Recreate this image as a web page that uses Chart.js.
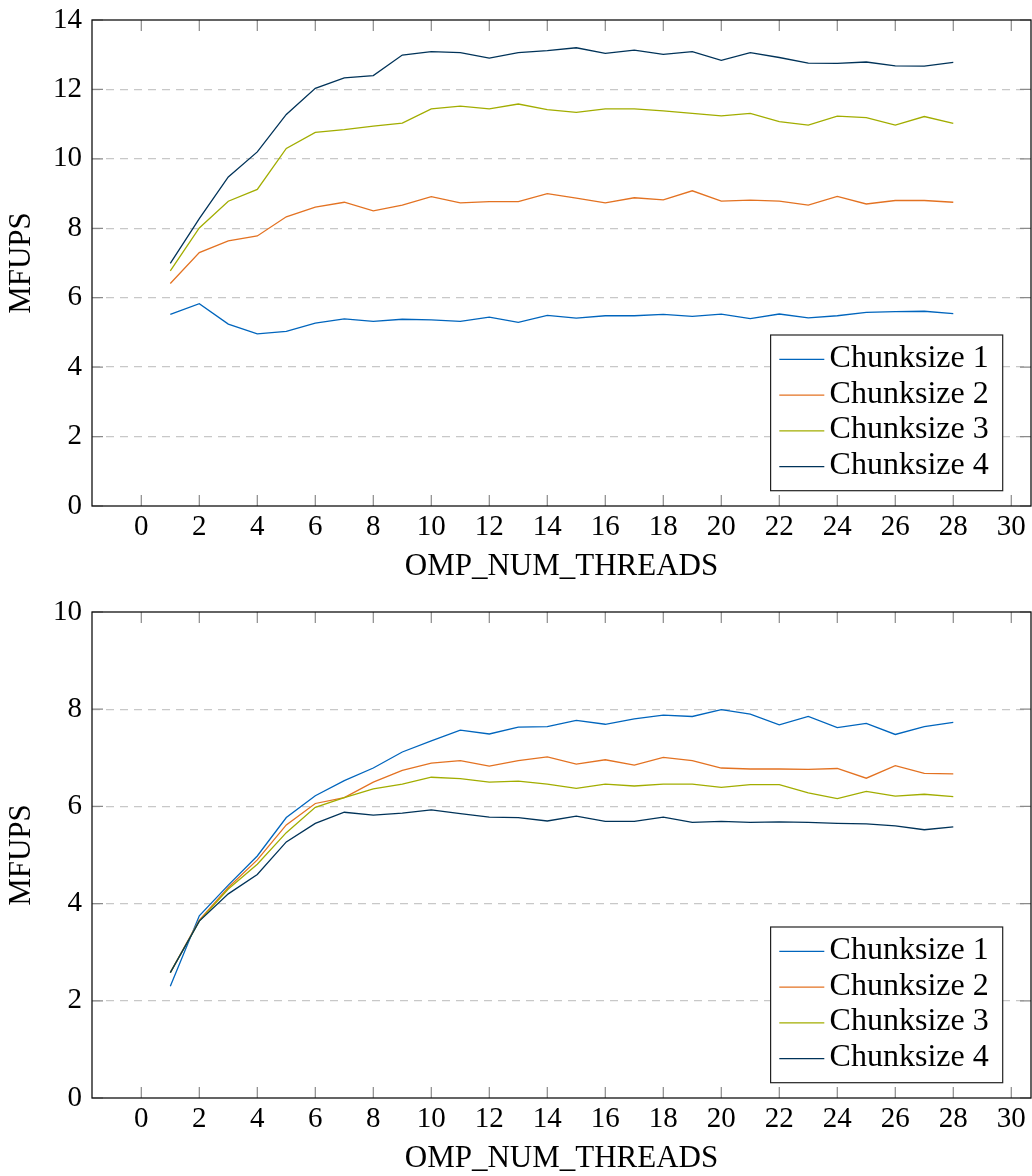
<!DOCTYPE html>
<html>
<head>
<meta charset="utf-8">
<script src="https://cdn.jsdelivr.net/npm/chart.js@4/dist/chart.umd.min.js"></script>
<style>
  html, body { margin: 0; padding: 0; background: #fff; overflow: hidden; width: 1032px; height: 1176px; }
  .panel { position: absolute; left: 0; width: 1032px; height: 588px; }
  #panelTop { top: 0; }
  #panelBottom { top: 592px; }
</style>
</head>
<body>
<div class="panel" id="panelTop"><canvas id="chartTop" width="1032" height="588"></canvas></div>
<div class="panel" id="panelBottom"><canvas id="chartBottom" width="1032" height="588"></canvas></div>
<script>
// Thread counts on the x axis
const threads = [1, 2, 3, 4, 5, 6, 7, 8, 9, 10, 11, 12, 13, 14, 15, 16, 17, 18, 19, 20, 21, 22, 23, 24, 25, 26, 27, 28];
const xTickValues = [0, 2, 4, 6, 8, 10, 12, 14, 16, 18, 20, 22, 24, 26, 28, 30];
const seriesLabels = ['Chunksize 1', 'Chunksize 2', 'Chunksize 3', 'Chunksize 4'];
const seriesColors = ['#0065BD', '#E37222', '#A2AD00', '#003359'];
const xTitle = 'OMP_NUM_THREADS';
const yTitle = 'MFUPS';

// Upper panel (MFUPS, y axis 0..14)
const upperCs1 = [5.52, 5.83, 5.24, 4.96, 5.03, 5.27, 5.39, 5.32, 5.38, 5.36, 5.32, 5.44, 5.29, 5.49, 5.41, 5.48, 5.48, 5.52, 5.46, 5.53, 5.40, 5.53, 5.42, 5.48, 5.58, 5.60, 5.61, 5.54];
const upperCs2 = [6.41, 7.30, 7.64, 7.78, 8.33, 8.61, 8.75, 8.50, 8.67, 8.91, 8.73, 8.77, 8.77, 9.00, 8.87, 8.73, 8.88, 8.82, 9.08, 8.78, 8.81, 8.78, 8.67, 8.92, 8.70, 8.80, 8.80, 8.75];
const upperCs3 = [6.77, 8.01, 8.78, 9.12, 10.30, 10.76, 10.84, 10.94, 11.03, 11.44, 11.52, 11.44, 11.58, 11.42, 11.34, 11.44, 11.44, 11.38, 11.31, 11.24, 11.31, 11.07, 10.97, 11.23, 11.19, 10.97, 11.22, 11.02];
const upperCs4 = [6.99, 8.28, 9.48, 10.20, 11.28, 12.03, 12.33, 12.40, 12.99, 13.09, 13.06, 12.90, 13.06, 13.12, 13.20, 13.04, 13.13, 13.01, 13.09, 12.84, 13.06, 12.92, 12.76, 12.75, 12.79, 12.68, 12.67, 12.78];
const upperYMax = 14;

// Lower panel (MFUPS, y axis 0..10)
const lowerCs1 = [2.30, 3.75, 4.38, 4.98, 5.77, 6.22, 6.53, 6.79, 7.12, 7.35, 7.57, 7.49, 7.63, 7.64, 7.77, 7.69, 7.80, 7.88, 7.85, 7.99, 7.90, 7.68, 7.85, 7.62, 7.71, 7.48, 7.64, 7.73];
const lowerCs2 = [2.58, 3.66, 4.33, 4.90, 5.62, 6.06, 6.18, 6.50, 6.74, 6.89, 6.94, 6.83, 6.94, 7.02, 6.87, 6.96, 6.85, 7.01, 6.94, 6.79, 6.77, 6.77, 6.76, 6.78, 6.58, 6.84, 6.68, 6.67];
const lowerCs3 = [2.58, 3.64, 4.30, 4.81, 5.46, 5.98, 6.18, 6.36, 6.46, 6.60, 6.57, 6.50, 6.52, 6.46, 6.37, 6.46, 6.42, 6.46, 6.46, 6.39, 6.45, 6.45, 6.28, 6.16, 6.31, 6.21, 6.25, 6.20];
const lowerCs4 = [2.58, 3.64, 4.20, 4.60, 5.27, 5.65, 5.88, 5.82, 5.86, 5.93, 5.85, 5.78, 5.77, 5.70, 5.80, 5.69, 5.69, 5.78, 5.67, 5.69, 5.67, 5.68, 5.67, 5.65, 5.64, 5.60, 5.52, 5.58];
const lowerYMax = 10;

const FONT_FAMILY = '"Liberation Serif", "DejaVu Serif", serif';
const TICK_LEN = 11;

// Inner tick marks, plot frame and boxed legend in the lower right corner
const framePlugin = {
  id: 'frame',
  afterDatasetsDraw(chart) {
    const { ctx, chartArea: a, scales: { x, y } } = chart;
    ctx.save();
    ctx.strokeStyle = '#8a8a8a';
    ctx.lineWidth = 1.2;
    ctx.setLineDash([]);
    ctx.beginPath();
    xTickValues.forEach(v => {
      const px = x.getPixelForValue(v);
      ctx.moveTo(px, a.top); ctx.lineTo(px, a.top + TICK_LEN);
      ctx.moveTo(px, a.bottom); ctx.lineTo(px, a.bottom - TICK_LEN);
    });
    y.ticks.forEach(t => {
      const py = y.getPixelForValue(t.value);
      ctx.moveTo(a.left, py); ctx.lineTo(a.left + TICK_LEN, py);
      ctx.moveTo(a.right, py); ctx.lineTo(a.right - TICK_LEN, py);
    });
    ctx.stroke();

    ctx.strokeStyle = '#111';
    ctx.lineWidth = 1.3;
    ctx.strokeRect(a.left, a.top, a.right - a.left, a.bottom - a.top);

    // legend
    const ds = chart.data.datasets;
    ctx.font = '32px ' + FONT_FAMILY;
    let maxW = 0;
    ds.forEach(d => { maxW = Math.max(maxW, ctx.measureText(d.label).width); });
    const padL = 8.7, lineLen = 45, gap = 5.3, padR = 14;
    const boxW = padL + lineLen + gap + maxW + padR;
    const boxH = 155.7;
    const boxR = a.right - 28.3;
    const boxB = a.bottom - 15.3;
    const boxL = boxR - boxW;
    const boxT = boxB - boxH;
    ctx.fillStyle = '#fff';
    ctx.fillRect(boxL, boxT, boxW, boxH);
    ctx.strokeStyle = '#222';
    ctx.lineWidth = 1.2;
    ctx.strokeRect(boxL, boxT, boxW, boxH);
    ctx.textAlign = 'left';
    ctx.textBaseline = 'middle';
    ds.forEach((d, i) => {
      const ry = boxT + 24.3 + i * 35.8;
      ctx.strokeStyle = d.borderColor;
      ctx.lineWidth = 1.3;
      ctx.beginPath();
      ctx.moveTo(boxL + padL, ry);
      ctx.lineTo(boxL + padL + lineLen, ry);
      ctx.stroke();
      ctx.fillStyle = '#000';
      ctx.fillText(d.label, boxL + padL + lineLen + gap, ry - 1);
    });
    ctx.restore();
  }
};

function buildChart(canvasId, seriesList, yMax) {
  const datasets = seriesList.map((vals, i) => ({
    label: seriesLabels[i],
    data: threads.map((t, k) => ({ x: t, y: vals[k] })),
    borderColor: seriesColors[i],
    backgroundColor: seriesColors[i],
    borderWidth: 1.3,
    pointRadius: 0,
    tension: 0,
    fill: false,
    order: seriesList.length - i
  }));
  return new Chart(document.getElementById(canvasId), {
    type: 'line',
    data: { datasets },
    plugins: [framePlugin],
    options: {
      responsive: false,
      animation: false,
      events: [],
      layout: { padding: { left: 0, top: 20, right: 1, bottom: 0 } },
      plugins: { legend: { display: false }, tooltip: { enabled: false } },
      scales: {
        x: {
          type: 'linear',
          min: -1.7,
          max: 30.68,
          afterBuildTicks: s => { s.ticks = xTickValues.map(v => ({ value: v })); },
          afterFit: s => { s.height = 82; s.paddingLeft = 0; s.paddingRight = 0; },
          grid: { display: false, drawTicks: false },
          border: { display: false },
          ticks: { font: { family: FONT_FAMILY, size: 29 }, color: '#000', padding: 4, maxRotation: 0, autoSkip: false },
          title: { display: true, text: xTitle, font: { family: FONT_FAMILY, size: 31 }, color: '#000', padding: { top: 0, bottom: 3 } }
        },
        y: {
          min: 0,
          max: yMax,
          afterFit: s => { s.width = 92; s.paddingTop = 0; s.paddingBottom = 0; },
          ticks: { stepSize: 2, font: { family: FONT_FAMILY, size: 29 }, color: '#000', padding: 10 },
          grid: {
            drawTicks: false,
            lineWidth: 1.3,
            color: c => (c.tick && (c.tick.value === 0 || c.tick.value === yMax)) ? 'rgba(0,0,0,0)' : '#c8c8c8'
          },
          border: { display: false, dash: [8, 6] },
          title: { display: true, text: yTitle, font: { family: FONT_FAMILY, size: 31 }, color: '#000', padding: { top: 3, bottom: 0 } }
        }
      }
    }
  });
}

buildChart('chartTop', [upperCs1, upperCs2, upperCs3, upperCs4], upperYMax);
buildChart('chartBottom', [lowerCs1, lowerCs2, lowerCs3, lowerCs4], lowerYMax);
</script>
</body>
</html>
